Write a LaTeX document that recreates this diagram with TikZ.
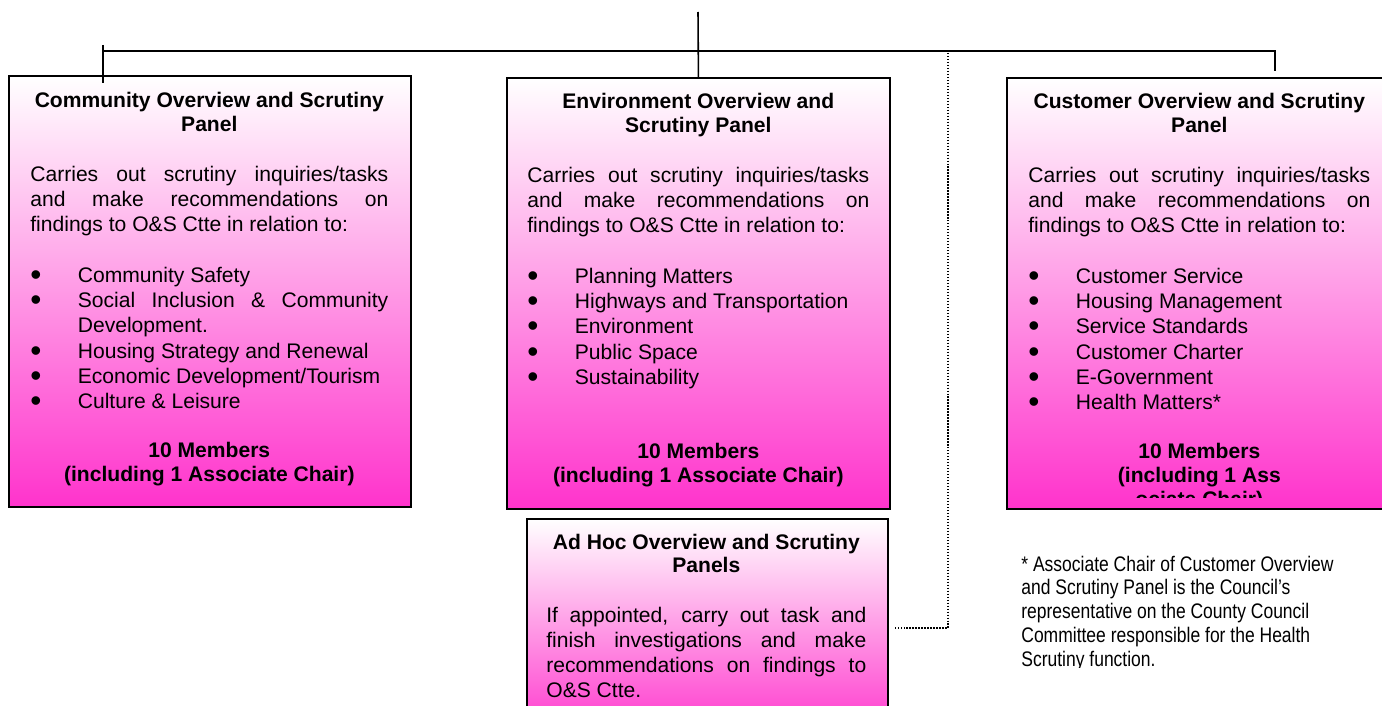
\documentclass[tikz,border=0pt]{standalone}
\usepackage{fontspec}
\setmainfont{Liberation Sans}
\newfontfamily\narrowfont[FakeStretch=0.83]{Liberation Sans}
\usetikzlibrary{positioning}
\definecolor{panelpink}{RGB}{255,51,204}
\hyphenpenalty=10000
\newcommand{\panelfont}{\fontsize{12}{14.4}\selectfont}
\newcommand{\paneltitle}[1]{{\centering\bfseries\fontsize{12}{13.6}\selectfont #1\par}\vspace{13.6pt}}
\newcommand{\panelitem}[1]{\par\hangindent=0.95cm\hangafter=1\noindent\makebox[0.95cm][l]{\raisebox{-1.6pt}{\scalebox{1.5}{\textbullet}}}#1}
\newcommand{\panelgap}{\par\vspace{14.4pt}}
\newcommand{\panelmembers}[1]{\panelgap{\centering\bfseries\fontsize{12}{13.6}\selectfont #1\par}}

\begin{document}
\begin{tikzpicture}
    [x=0.02cm,y=-0.02cm,
     panel/.style={draw, line width=1.1pt, top color=white, bottom color=panelpink, anchor=north west, inner sep=0pt},
     paneltext/.style={anchor=base west, inner sep=0pt},
     link/.style={line width=0.9pt}]
  \useasboundingbox (0,0) rectangle (1382,706);
  \clip (0,0) rectangle (1382,706);

  \foreach \name/\x/\y/\w/\h in {comm/8/75/8.04cm/8.62cm, env/506/77/7.66cm/8.62cm, cust/1006/77/7.66cm/8.62cm, adhoc/526/518/7.22cm/4.4cm}
    \node[panel, minimum width=\w, minimum height=\h] (\name) at (\x,\y) {};

  \coordinate (top) at (698,12);
  \coordinate (busL) at (103,51);
  \coordinate (busR) at (1275,51);
  \coordinate (tickL) at (103,45);
  \coordinate (tickLend) at (103,83);
  \coordinate (dropR) at (1275,71);
  \coordinate (dotT) at (948,53);
  \coordinate (dotB) at (893,628);

  \draw[link] (top) -- (env.north);
  \draw[link] (busL) -- (busR) -- (dropR);
  \draw[link] (tickL) -- (tickLend);
  \draw[densely dotted, line width=0.7pt] (dotT) |- (dotB);

  \node[paneltext] (commtext) at (30,108) {\parbox[t]{7.16cm}{\panelfont
    \paneltitle{Community Overview and Scrutiny Panel}
    Carries out scrutiny inquiries/tasks\linebreak and make recommendations on\linebreak findings to O\&S Ctte in relation to:
    \panelgap
    \panelitem{Community Safety}
    \panelitem{Social Inclusion \& Community\linebreak Development.}
    \panelitem{Housing Strategy and Renewal}
    \panelitem{Economic Development/Tourism}
    \panelitem{Culture \& Leisure}
    \panelmembers{10 Members\\(including 1 Associate Chair)}}};

  \node[paneltext] (envtext) at (527,109) {\parbox[t]{6.84cm}{\panelfont
    \paneltitle{Environment Overview and\\Scrutiny Panel}
    Carries out scrutiny inquiries/tasks\linebreak and make recommendations on\linebreak findings to O\&S Ctte in relation to:
    \panelgap
    \panelitem{Planning Matters}
    \panelitem{Highways and Transportation}
    \panelitem{Environment}
    \panelitem{Public Space}
    \panelitem{Sustainability}
    \panelgap
    \panelmembers{10 Members\\(including 1 Associate Chair)}}};

  \begin{scope}
    \clip (1006,77) rectangle (1408,497);
    \node[paneltext] (custtext) at (1028,109) {\parbox[t]{6.84cm}{\panelfont
      \paneltitle{Customer Overview and Scrutiny Panel}
      Carries out scrutiny inquiries/tasks\linebreak and make recommendations on\linebreak findings to O\&S Ctte in relation to:
      \panelgap
      \panelitem{Customer Service}
      \panelitem{Housing Management}
      \panelitem{Service Standards}
      \panelitem{Customer Charter}
      \panelitem{E-Government}
      \panelitem{Health Matters*}
      \panelmembers{10 Members\\(including 1 Ass\\ociate Chair)}}};
  \end{scope}

  \node[paneltext] (adhoctext) at (546,549) {\parbox[t]{6.4cm}{\panelfont
    \paneltitle{Ad Hoc Overview and Scrutiny Panels}
    If appointed, carry out task and\linebreak finish investigations and make\linebreak recommendations on findings to\linebreak O\&S Ctte.}};

  \begin{scope}
    \clip (1006,540) rectangle (1382,667);
    \node[paneltext] (note) at (1021,571) {\parbox[t]{7cm}{\narrowfont\fontsize{12}{13.6}\selectfont\raggedright
      * Associate Chair of Customer Overview\\and Scrutiny Panel is the Council’s\\representative on the County Council\\Committee responsible for the Health\\Scrutiny function.}};
  \end{scope}
\end{tikzpicture}
\end{document}
